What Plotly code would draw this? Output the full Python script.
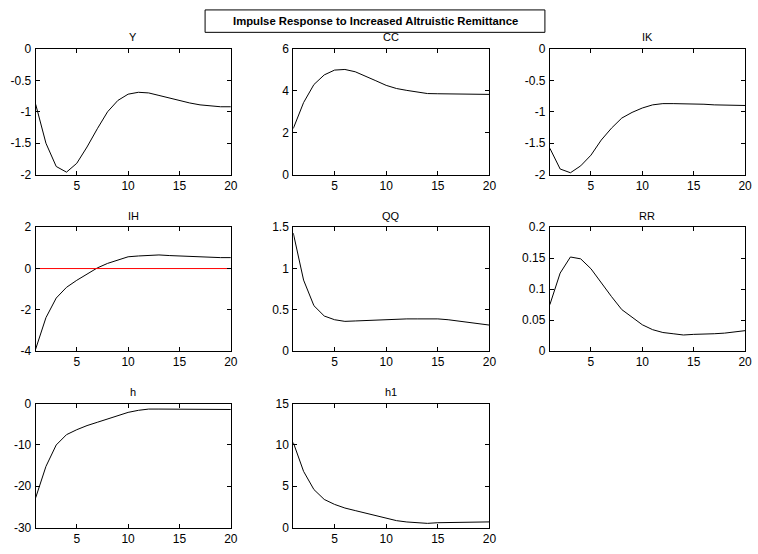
import plotly.graph_objects as go

W, H = 758, 554

t = list(range(1, 21))

Y = [-0.88, -1.50, -1.87, -1.96, -1.82, -1.56, -1.27, -1.00, -0.82, -0.72,
     -0.69, -0.70, -0.74, -0.78, -0.83, -0.86, -0.89, -0.91, -0.92, -0.92]
CC = [2.20, 3.44, 4.30, 4.76, 4.99, 5.02, 4.91, 4.68, 4.48, 4.26,
      4.11, 4.02, 3.94, 3.87, 3.86, 3.86, 3.86, 3.86, 3.85, 3.83]
IK = [-1.58, -1.91, -1.97, -1.86, -1.69, -1.45, -1.26, -1.10, -1.01, -0.94,
      -0.89, -0.87, -0.87, -0.87, -0.87, -0.88, -0.89, -0.89, -0.90, -0.90]
IH = [-3.90, -2.38, -1.43, -0.91, -0.57, -0.25, 0.03, 0.25, 0.41, 0.57,
      0.61, 0.65, 0.66, 0.63, 0.61, 0.58, 0.54, 0.54, 0.53, 0.53]
QQ = [1.43, 0.86, 0.55, 0.425, 0.38, 0.36, 0.365, 0.37, 0.38, 0.38,
      0.39, 0.39, 0.39, 0.39, 0.39, 0.38, 0.366, 0.35, 0.335, 0.315]
RR = [0.075, 0.126, 0.152, 0.149, 0.133, 0.110, 0.088, 0.067, 0.054, 0.0425,
      0.0346, 0.030, 0.028, 0.026, 0.027, 0.027, 0.028, 0.029, 0.031, 0.033]
h = [-22.8, -15.2, -10.0, -7.5, -6.3, -5.3, -4.5, -3.7, -2.9, -2.1,
     -1.6, -1.3, -1.3, -1.3, -1.3, -1.3, -1.4, -1.4, -1.4, -1.4]
h1 = [10.3, 6.8, 4.6, 3.4, 2.8, 2.36, 2.05, 1.73, 1.42, 1.06,
      0.83, 0.67, 0.55, 0.50, 0.58, 0.60, 0.60, 0.68, 0.68, 0.68]

names = ["Y", "CC", "IK", "IH", "QQ", "RR", "h", "h1"]
series = [Y, CC, IK, IH, QQ, RR, h, h1]
yticks = [
    [-2, -1.5, -1, -0.5, 0],
    [0, 2, 4, 6],
    [-2, -1.5, -1, -0.5, 0],
    [-4, -2, 0, 2],
    [0, 0.5, 1, 1.5],
    [0, 0.05, 0.1, 0.15, 0.2],
    [-30, -20, -10, 0],
    [0, 5, 10, 15],
]
ytexts = [
    ["-2", "-1.5", "-1", "-0.5", "0"],
    ["0", "2", "4", "6"],
    ["-2", "-1.5", "-1", "-0.5", "0"],
    ["-4", "-2", "0", "2"],
    ["0", "0.5", "1", "1.5"],
    ["0", "0.05", "0.1", "0.15", "0.2"],
    ["-30", "-20", "-10", "0"],
    ["0", "5", "10", "15"],
]
xticks = [5, 10, 15, 20]
xtexts = ["5", "10", "15", "20"]
title = "Impulse Response to Increased Altruistic Remittance"

# pixel layout
cols_px = [(36, 233), (296, 494), (555, 752)]
rows_px = [(43, 172), (226, 353), (407, 534)]

FONT = "Liberation Sans, Arial, sans-serif"
TICKFONT = dict(family=FONT, size=12, color="black")
fig = go.Figure()
layout = dict(
    width=W, height=H, margin=dict(l=0, r=0, t=0, b=0),
    paper_bgcolor="white", plot_bgcolor="white", showlegend=False,
    font=dict(family=FONT, size=11, color="black"), hovermode=False,
)
annotations = []
shapes = []

for i, (nm, s) in enumerate(zip(names, series)):
    r, c = divmod(i, 3)
    x0, x1 = cols_px[c]
    y0, y1 = rows_px[r]
    k = "" if i == 0 else str(i + 1)
    fig.add_trace(go.Scatter(x=t, y=s, mode="lines",
                             line=dict(color="black", width=1),
                             xaxis="x" + k, yaxis="y" + k, hoverinfo="skip"))
    if nm == "IH":
        fig.add_trace(go.Scatter(x=[t[0], t[-1]], y=[0, 0], mode="lines",
                                 line=dict(color="red", width=1),
                                 xaxis="x" + k, yaxis="y" + k, hoverinfo="skip"))
    axcommon = dict(showline=True, linecolor="black", linewidth=1, mirror="ticks",
                    ticks="inside", ticklen=4, tickcolor="black", showgrid=False,
                    zeroline=False, tickfont=TICKFONT, fixedrange=True)
    layout["xaxis" + k] = dict(axcommon, domain=[x0 / W, x1 / W], range=[1, 20],
                               anchor="y" + k, tickvals=xticks, ticktext=xtexts)
    yt = yticks[i]
    layout["yaxis" + k] = dict(axcommon, domain=[1 - y1 / H, 1 - y0 / H],
                               range=[yt[0], yt[-1]], anchor="x" + k,
                               tickvals=yt, ticktext=ytexts[i], ticklabelstandoff=1)
    annotations.append(dict(text=nm, x=(x0 + x1) / 2 / W, y=1 - (y0 - 12) / H,
                            xref="paper", yref="paper", xanchor="center",
                            yanchor="middle", showarrow=False,
                            font=dict(family=FONT, size=11, color="black")))

shapes.append(dict(type="rect", xref="paper", yref="paper",
                   x0=207 / W, x1=550 / W, y0=1 - 26 / H, y1=1 - 3 / H,
                   line=dict(color="black", width=1), fillcolor="white"))
annotations.append(dict(text="<b>" + title + "</b>", x=378.5 / W, y=1 - 14.5 / H,
                        xref="paper", yref="paper", xanchor="center", yanchor="middle",
                        showarrow=False, font=dict(family=FONT, size=11.3, color="black")))

layout["annotations"] = annotations
layout["shapes"] = shapes
fig.update_layout(**layout)
fig.write_html("out.html", config={"displayModeBar": False, "staticPlot": True},
               post_script="document.body.style.margin='0px';document.body.style.padding='0px';")
